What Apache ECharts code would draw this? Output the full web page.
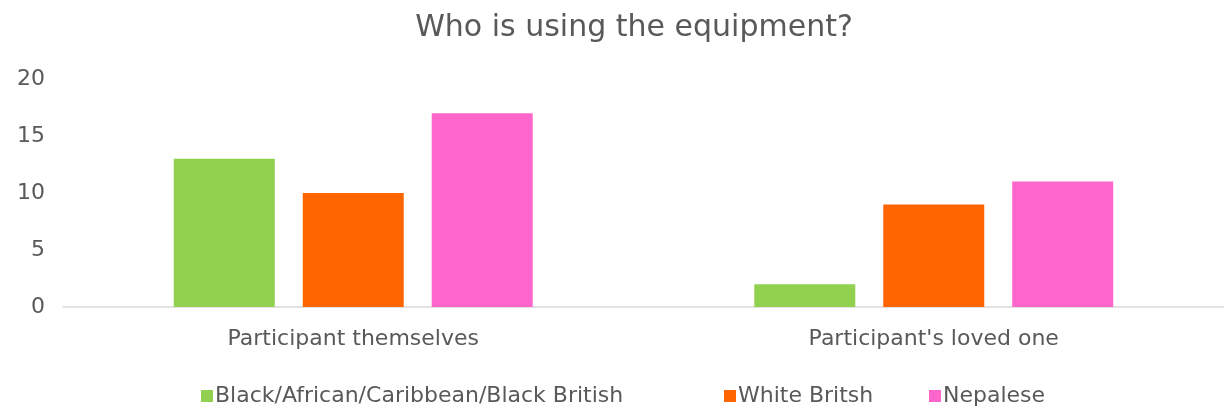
<!DOCTYPE html>
<html>
<head>
<meta charset="utf-8">
<script src="https://cdn.jsdelivr.net/npm/echarts@6/dist/echarts.min.js"></script>
<style>
  html, body { margin: 0; padding: 0; background: #fff; }
  #main { width: 1224px; height: 410px; }
</style>
</head>
<body>
<div id="main"></div>
<script>
    // data
    const categories = ['Participant themselves', "Participant's loved one"];
    const seriesNames = ['Black/African/Caribbean/Black British', 'White Britsh', 'Nepalese'];
    const blackAfrican = [13, 2];
    const whiteBritish = [10, 9];
    const nepalese = [17, 11];
    const yTicks = [0, 5, 10, 15, 20];

    const textGrey = '#595959';
    const font = 'DejaVu Sans';

    // one legend per item so each sits where it does in the picture
    const legendLeft = [196, 719, 924];
    let legends = seriesNames.map(function (name, i) {
        return {
            top: 380,
            left: legendLeft[i],
            itemWidth: 12,
            itemHeight: 12,
            icon: 'rect',
            textStyle: {
                color: textGrey,
                fontFamily: font,
                fontSize: 22,
                padding: [0, 0, 0, -3]
            },
            data: [name]
        }
    });

    let myChart = echarts.init(document.getElementById('main'));

    myChart.setOption({
        animation: false,
        color: ['#92D050', '#FF6600', '#FF66CC'],
        title: {
            text: 'Who is using the equipment?',
            left: 629,
            textAlign: 'center',
            top: 8,
            textStyle: {
                color: textGrey,
                fontFamily: font,
                fontWeight: 'normal',
                fontSize: 30
            }
        },
        legend: legends,
        grid: {
            left: 63,
            right: -8,
            top: 79,
            bottom: 103,
            containLabel: false
        },
        xAxis: {
            type: 'category',
            data: categories,
            axisLine: {lineStyle: {color: '#d9d9d9', width: 1.5}},
            axisTick: {show: false},
            axisLabel: {
                color: textGrey,
                fontFamily: font,
                fontSize: 22,
                margin: 21
            }
        },
        yAxis: {
            type: 'value',
            min: yTicks[0],
            max: yTicks[yTicks.length - 1],
            interval: 5,
            splitLine: {show: false},
            axisLine: {show: false},
            axisTick: {show: false},
            axisLabel: {
                color: textGrey,
                fontFamily: font,
                fontSize: 22,
                margin: 18
            }
        },
        series: [
            {name: seriesNames[0], type: 'bar', data: blackAfrican, barWidth: 101, barGap: '27.7%'},
            {name: seriesNames[1], type: 'bar', data: whiteBritish, barWidth: 101, barGap: '27.7%'},
            {name: seriesNames[2], type: 'bar', data: nepalese, barWidth: 101, barGap: '27.7%'}
        ]
    });
</script>
</body>
</html>
